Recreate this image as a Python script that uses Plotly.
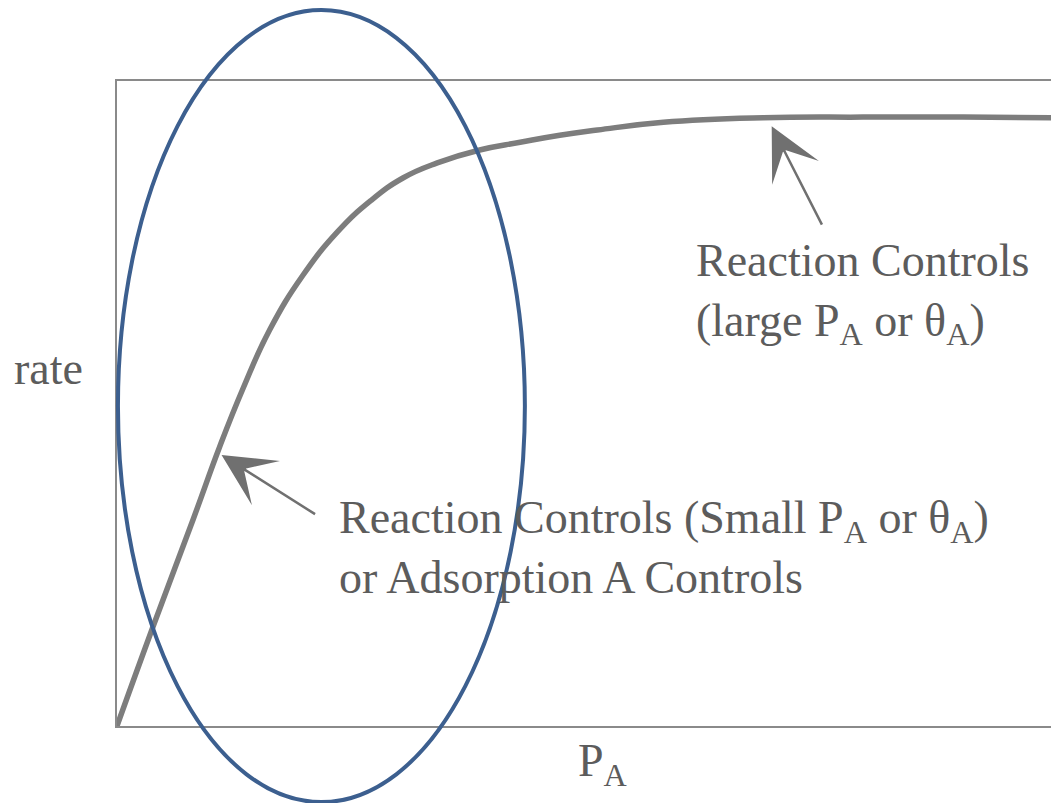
import plotly.graph_objects as go

# rate vs partial pressure of A (arbitrary units)
p_a = [0.0, 0.38, 0.81, 1.09, 1.34, 1.62, 1.97, 2.34, 2.69, 3.04, 3.40,
       3.85, 4.28, 4.70, 5.10, 5.80, 6.86, 7.92, 8.98, 10.0]
rate = [0.0, 0.153, 0.321, 0.433, 0.524, 0.614, 0.698, 0.766, 0.814, 0.850,
        0.873, 0.893, 0.905, 0.916, 0.924, 0.936, 0.943, 0.944, 0.944, 0.943]

# arrow tips (x, y) in data units
arrow_tips = [(6.95, 0.93), (1.11, 0.42)]
arrow_tails = [(51, 100), (95, 60)]  # pixel offsets of the tails

FONT = "Liberation Serif, Times New Roman, serif"
GRAY = "#7d7d7d"
TEXT = "#5c5c5c"
FS = 46

fig = go.Figure()
fig.add_trace(go.Scatter(
    x=p_a, y=rate, mode="lines",
    line=dict(color=GRAY, width=5.5, shape="spline", smoothing=1.3),
    hoverinfo="skip", showlegend=False,
))

for (tx, ty), (ax, ay) in zip(arrow_tips, arrow_tails):
    fig.add_annotation(
        x=tx, y=ty, ax=ax, ay=ay, text="", showarrow=True,
        arrowhead=3, arrowsize=3.5, arrowwidth=2.5, arrowcolor="#707070",
        standoff=0,
    )

labels = [
    dict(text="Reaction Controls<br>(large P<sub>A</sub> or θ<sub>A</sub>)",
         x=0.6125, y=0.764),
    dict(text="Reaction Controls (Small P<sub>A</sub> or θ<sub>A</sub>)<br>or Adsorption A Controls",
         x=0.2335, y=0.366),
]
for lab in labels:
    fig.add_annotation(
        text=lab["text"], x=lab["x"], y=lab["y"], xref="paper", yref="paper",
        xanchor="left", yanchor="top", align="left", showarrow=False,
        font=dict(family=FONT, size=FS, color=TEXT),
    )

fig.add_annotation(text="rate", x=-0.034, y=0.554, xref="paper", yref="paper",
                   xanchor="right", yanchor="middle", showarrow=False,
                   font=dict(family=FONT, size=FS, color=TEXT))
fig.add_annotation(text="P<sub>A</sub>", x=0.516, y=-0.011, xref="paper", yref="paper",
                   xanchor="center", yanchor="top", showarrow=False,
                   font=dict(family=FONT, size=FS, color=TEXT))

# highlight ellipse drawn over the figure
fig.add_shape(type="circle", xref="paper", yref="paper",
              x0=0.001, x1=0.433, y0=-0.118, y1=1.110,
              line=dict(color="#3c5f8f", width=4))

fig.update_xaxes(range=[0, 10], showline=True, linecolor="#8a8a8a", linewidth=2,
                 mirror=True, showgrid=False, zeroline=False, showticklabels=False,
                 ticks="")
fig.update_yaxes(range=[0, 1], showline=True, linecolor="#8a8a8a", linewidth=2,
                 mirror=False, showgrid=False, zeroline=False, showticklabels=False,
                 ticks="")
# page has an 8px body margin, so the figure is 8px smaller each way
fig.update_layout(
    width=1051, height=795,
    margin=dict(l=109, r=0, t=73, b=77),
    plot_bgcolor="white", paper_bgcolor="white",
)
fig.write_html("out.html")
